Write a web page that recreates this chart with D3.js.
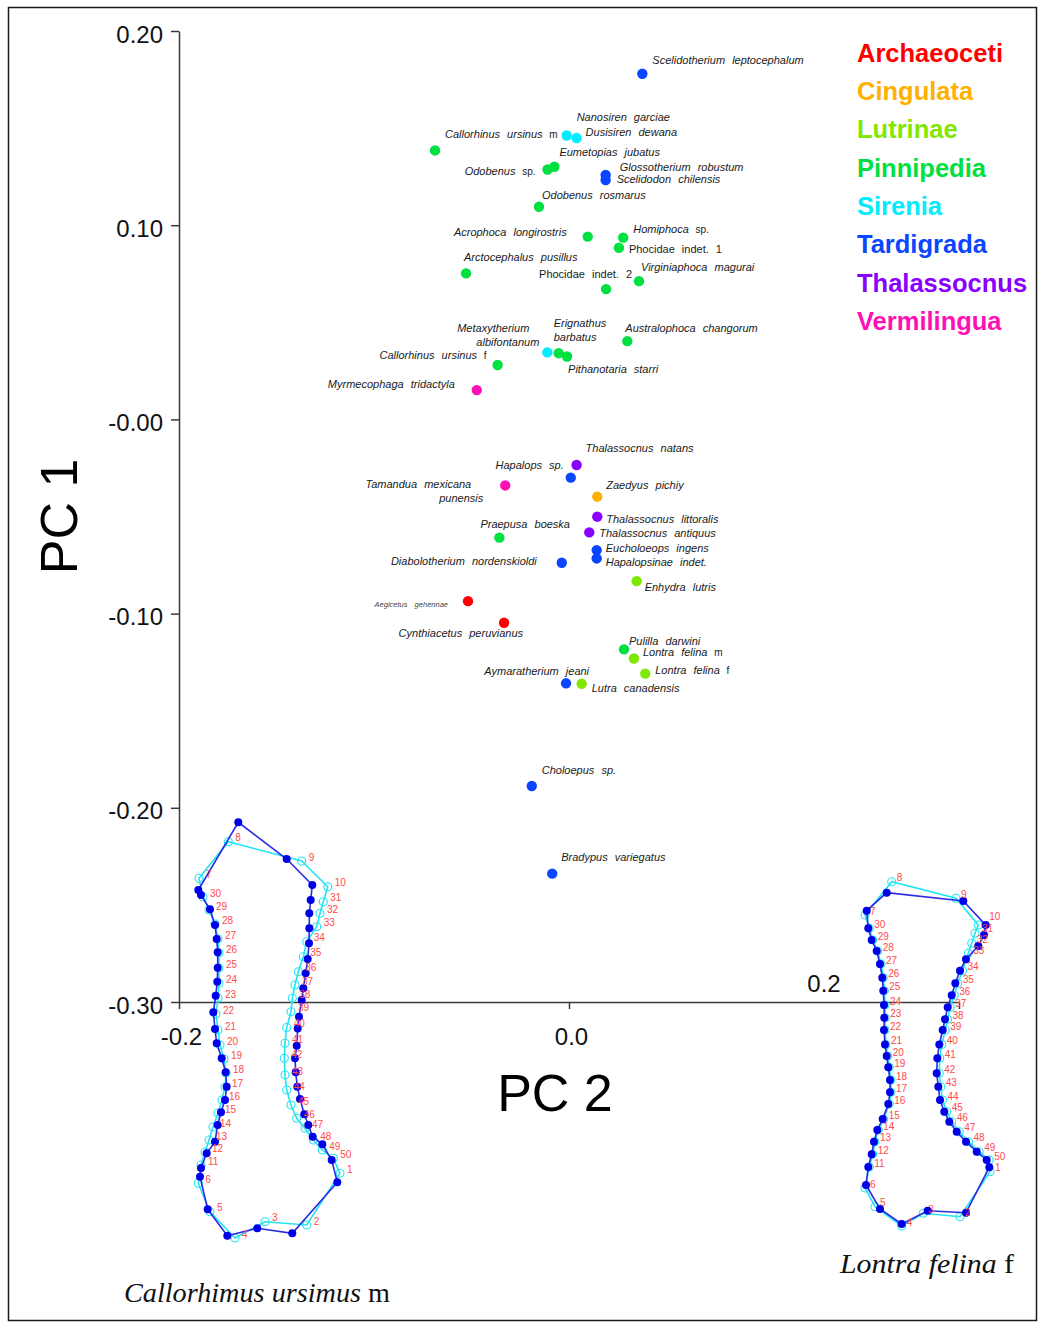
<!DOCTYPE html>
<html>
<head>
<meta charset="utf-8">
<script src="https://cdn.jsdelivr.net/npm/d3@7"></script>
<style>
  body { margin: 0; background: #fff; }
  svg { display: block; }
</style>
</head>
<body>
<svg id="chart" width="1039" height="1323"></svg>
<script>
// ---- Groups (legend) ----
const groups = ["Archaeoceti", "Cingulata", "Lutrinae", "Pinnipedia", "Sirenia", "Tardigrada", "Thalassocnus", "Vermilingua"];

// ---- Taxa: name ("|" splits a name over two lines), upright tag, group, PC scores ----
const taxa = [
  "Scelidotherium leptocephalum", "Nanosiren garciae", "Dusisiren dewana", "Callorhinus ursinus",
  "Odobenus", "Eumetopias jubatus", "Glossotherium robustum", "Scelidodon chilensis",
  "Odobenus rosmarus", "Acrophoca longirostris", "Homiphoca", "Phocidae indet. 1",
  "Arctocephalus pusillus", "Phocidae indet. 2", "Virginiaphoca magurai", "Metaxytherium|albifontanum",
  "Erignathus|barbatus", "Pithanotaria starri", "Australophoca changorum", "Callorhinus ursinus",
  "Myrmecophaga tridactyla", "Thalassocnus natans", "Hapalops sp.", "Tamandua mexicana|punensis",
  "Zaedyus pichiy", "Thalassocnus littoralis", "Thalassocnus antiquus", "Eucholoeops ingens",
  "Hapalopsinae indet.", "Praepusa boeska", "Diabolotherium nordenskioldi", "Enhydra lutris",
  "Aegicetus gehennae", "Cynthiacetus peruvianus", "Pulilla darwini", "Lontra felina",
  "Lontra felina", "Aymaratherium jeani", "Lutra canadensis", "Choloepus sp.",
  "Bradypus variegatus"
];
const taxonTags = [
  "", "", "", "m",
  "sp.", "", "", "",
  "", "", "sp.", "",
  "", "", "", "",
  "", "", "", "f",
  "", "", "", "",
  "", "", "", "",
  "", "", "", "",
  "", "", "", "m",
  "f", "", "", "",
  ""
];
const taxonGroup = [
  "Tardigrada", "Sirenia", "Sirenia", "Pinnipedia",
  "Pinnipedia", "Pinnipedia", "Tardigrada", "Tardigrada",
  "Pinnipedia", "Pinnipedia", "Pinnipedia", "Pinnipedia",
  "Pinnipedia", "Pinnipedia", "Pinnipedia", "Sirenia",
  "Pinnipedia", "Pinnipedia", "Pinnipedia", "Pinnipedia",
  "Vermilingua", "Thalassocnus", "Tardigrada", "Vermilingua",
  "Cingulata", "Thalassocnus", "Thalassocnus", "Tardigrada",
  "Tardigrada", "Pinnipedia", "Tardigrada", "Lutrinae",
  "Archaeoceti", "Archaeoceti", "Pinnipedia", "Lutrinae",
  "Lutrinae", "Tardigrada", "Lutrinae", "Tardigrada",
  "Tardigrada"
];
const pc2Values = [
  0.0376, -0.0012, 0.0039, -0.0687,
  -0.0110, -0.0075, 0.0188, 0.0188,
  -0.0154, 0.0096, 0.0278, 0.0256,
  -0.0528, 0.0190, 0.0359, -0.0111,
  -0.0053, -0.0010, 0.0299, -0.0366,
  -0.0473, 0.0039, 0.0009, -0.0327,
  0.0145, 0.0145, 0.0104, 0.0142,
  0.0142, -0.0357, -0.0037, 0.0347,
  -0.0518, -0.0333, 0.0282, 0.0333,
  0.0391, -0.0015, 0.0065, -0.0191,
  -0.0086
];
const pc1Values = [
  0.1780, 0.1462, 0.1449, 0.1385,
  0.1287, 0.1301, 0.1259, 0.1233,
  0.1095, 0.0941, 0.0936, 0.0884,
  0.0752, 0.0671, 0.0712, 0.0345,
  0.0341, 0.0324, 0.0403, 0.0280,
  0.0151, -0.0235, -0.0300, -0.0340,
  -0.0398, -0.0501, -0.0582, -0.0673,
  -0.0716, -0.0609, -0.0738, -0.0833,
  -0.0936, -0.1047, -0.1184, -0.1231,
  -0.1309, -0.1359, -0.1361, -0.1888,
  -0.2339
];

// ---- Axis ticks ----
const pc1Ticks = [0.2, 0.1, 0.0, -0.1, -0.2, -0.3];
const pc1TickLabels = ["0.20", "0.10", "-0.00", "-0.10", "-0.20", "-0.30"];
const pc2Ticks = [-0.2, 0.0, 0.2];
const pc2TickLabels = ["-0.2", "0.0", "0.2"];

// ---- Landmark configurations (50 landmarks each, local inset units) ----
const callorhinusMean = [
  [147.3,367.3],[102.3,418.3],[67.3,413.3],[37.3,420.7],[17.7,394.3],[10,361.7],[8.3,75],[48.3,7.3],[96.7,44],[122.3,70],
  [11,353],[16.7,338.3],[25,326.7],[27.7,310],[31,297.3],[35,285],[36.7,271.7],[35.7,257.3],[31.7,243.3],[26.7,228.3],
  [25,214],[23.3,197.3],[25.7,180.7],[27.3,166.7],[27.7,152.7],[27.7,137.3],[26.7,124],[25,110],[20,94.3],[11,80],
  [120.7,85],[119.3,98.3],[119.3,113.3],[119,128.3],[117.7,144],[115.7,158.3],[113.3,173.3],[111.7,185],[109,201.7],[107.7,213.5],
  [106.7,230.7],[105,243.3],[105.7,257.3],[107.3,271.7],[110,284],[114.3,299.3],[118.3,310],[122.7,321.7],[132.3,329.3],[141.7,345]
];
const callorhinusSpecimen = [
  [150,358.3],[116.7,410],[75,406.7],[45,423],[20,396.7],[8.3,368.3],[9,63.3],[38.3,26.7],[111.7,46],[137.7,71.7],
  [11,350],[15,337],[19,325],[23,312],[28,298],[32,285],[35,272],[36,258],[34,244],[30,230],
  [28,215],[26,199],[28,183],[29,168],[29,153],[29,138],[28,124],[25,109],[19,95],[13,82],
  [133.3,86.7],[130,98.3],[126.7,111.7],[116.7,126.7],[113.3,141.7],[108.3,156.7],[105,170],[102.3,183.3],[101,196.7],[96.7,212.5],
  [95,228.3],[94.3,243.3],[95,260],[96.7,275],[101,290],[106.7,303.3],[115,313.3],[123.3,325],[132.3,335],[143.3,343.3]
];
const lontraMean = [
  [134.3,297.3],[111,342.7],[72.7,340.7],[46.7,354],[25,339],[11,315],[11.7,40.7],[31.7,22.7],[108.3,31],[130.7,55],
  [13.3,297],[16.7,284.3],[19,271.7],[22.3,260],[27.7,249],[33.3,234],[35,222.3],[35,210],[33.3,197.3],[31.7,186],
  [30,174.5],[29,160],[29.3,147.7],[29,135],[28.3,120.7],[27.3,107.7],[25,94],[21.7,81],[16.7,70],[13.3,58.3],
  [129,65],[123.3,76],[111,89.3],[105,100.7],[100.3,113.3],[96.7,125.3],[92.7,137.3],[90,149.3],[87.7,160],[84.3,174.5],
  [82.3,188.3],[81.7,203.3],[83.3,216.7],[85,230],[89.3,241.7],[94.3,251.7],[101.7,261.7],[111,271.7],[121.7,281.7],[131.7,290]
];
const lontraSpecimen = [
  [135,301.7],[105,346.7],[68.3,343.3],[46.7,356],[20,336.7],[10,318],[10,45],[36.7,11.7],[101,28.3],[123.3,55],
  [14.3,297],[17.7,284.3],[20,271.7],[23.3,260],[28.7,249],[34.3,234],[36,222.3],[36,210],[34.3,197.3],[32.7,186],
  [31,174.5],[30,160],[30.3,147.7],[30,135],[29.3,120.7],[28.3,107.7],[26,94],[22.7,81],[17.7,70],[14.3,58.3],
  [120,63.3],[116.7,73.3],[113.3,83.3],[107.5,100.7],[102.8,113.3],[99.2,125.3],[95.2,137.3],[92.5,149.3],[90.2,160],[86.8,174.5],
  [84.8,188.3],[84.2,203.3],[85.8,216.7],[87.5,230],[91.8,241.7],[96.8,251.7],[104.2,261.7],[113.5,271.7],[124.2,281.7],[134.2,290]
];
// Outline order: fixed landmarks 1-6, left curve 11-30, landmarks 7-10, right curve 31-50
const outlineOrder = [1,2,3,4,5,6].concat(d3.range(11,31), [7,8,9,10], d3.range(31,51), [1]);

// ---------------- styling & layout ----------------
const groupColors = ["#ff0000", "#ffb000", "#80e800", "#00e040", "#00ecff", "#0a46ff", "#8a00ff", "#ff10b4"];
const sansFont = "'Liberation Sans', Arial, sans-serif";
const serifFont = "'Liberation Serif', 'Times New Roman', serif";

// label offsets from each point: [dx, dy, anchor] per line
const labelLayout = [
  [[10,-14,"start"]], [[10,-18,"start"]], [[9,-6,"start"]], [[10,-16,"start"]],
  [[-12,2,"end"]], [[5,-15,"start"]], [[14,-8,"start"]], [[11,-1,"start"]],
  [[3,-12,"start"]], [[-21,-5,"end"]], [[10,-8,"start"]], [[10,1,"start"]],
  [[-2,-16,"start"]], [[-67,-15,"start"]], [[2,-14,"start"]], [[-18,-24,"end"],[-8,-10,"end"]],
  [[-5,-30,"start"],[-5,-16,"start"]], [[1,13,"start"]], [[-2,-13,"start"]], [[-11,-10,"end"]],
  [[-22,-6,"end"]], [[9,-17,"start"]], [[-7,-13,"end"]], [[-34,-1,"end"],[-22,13,"end"]],
  [[9,-12,"start"]], [[9,2,"start"]], [[10,1,"start"]], [[9,-2,"start"]],
  [[9,4,"start"]], [[-19,-14,"start"]], [[-25,-2,"end"]], [[8,6,"start"]],
  [[-20,3,"end"]], [[19,10,"end"]], [[5,-8,"start"]], [[9,-6,"start"]],
  [[10,-3,"start"]], [[23,-12,"end"]], [[10,4,"start"]], [[10,-16,"start"]],
  [[9,-16,"start"]]
];
const uprightNames = new Set(["Phocidae indet. 1", "Phocidae indet. 2"]);
const tinyNames = new Set(["Aegicetus gehennae"]);

const svg = d3.select("#chart");
svg.append("rect").attr("width", 1039).attr("height", 1323).attr("fill", "#fff");
svg.append("rect").attr("x", 8.5).attr("y", 7.5).attr("width", 1028).attr("height", 1313)
  .attr("fill", "none").attr("stroke", "#1a1a1a").attr("stroke-width", 1.5);

const x = d3.scaleLinear().domain([-0.2, 0.2]).range([179, 959]);
const y = d3.scaleLinear().domain([-0.3, 0.2]).range([1002, 31]);
const colorOf = d3.scaleOrdinal().domain(groups).range(groupColors);

// ---- axes ----
function styleAxis(g) {
  g.attr("font-family", null).attr("font-size", null);
  g.select(".domain").attr("stroke", "#3a3a3a").attr("stroke-width", 1.5);
  g.selectAll(".tick line").attr("stroke", "#3a3a3a").attr("stroke-width", 1.5);
  g.selectAll(".tick text").style("font-family", sansFont).style("font-size", "24px").attr("fill", "#111");
}
const gy = svg.append("g").attr("transform", `translate(${x(-0.2)},0)`)
  .call(d3.axisLeft(y).tickValues(pc1Ticks).tickFormat((d, i) => pc1TickLabels[i])
    .tickSize(8).tickSizeOuter(0).tickPadding(8));
styleAxis(gy);
gy.selectAll(".tick text").attr("dy", "0.46em");

const gx = svg.append("g").attr("transform", `translate(0,${y(-0.3)})`)
  .call(d3.axisBottom(x).tickValues(pc2Ticks).tickFormat((d, i) => i < 2 ? pc2TickLabels[i] : "")
    .tickSize(7).tickSizeOuter(0).tickPadding(19));
styleAxis(gx);
gx.selectAll(".tick text").attr("dx", 2);

// label of the 0.2 tick, lifted above the axis beside the inset
svg.append("text")
  .attr("x", x(0.2) - 135).attr("y", y(-0.3) - 10)
  .attr("text-anchor", "middle")
  .style("font-family", sansFont).style("font-size", "24px").attr("fill", "#111")
  .text(pc2TickLabels[2]);

// axis titles
svg.append("text")
  .attr("transform", `translate(77,${(y(0.2) + y(-0.3)) / 2})rotate(-90)`)
  .attr("text-anchor", "middle")
  .style("font-family", sansFont).style("font-size", "52px").attr("fill", "#000")
  .text("PC 1");
svg.append("text")
  .attr("x", 555).attr("y", 1111)
  .attr("text-anchor", "middle")
  .style("font-family", sansFont).style("font-size", "52px").attr("fill", "#000")
  .text("PC 2");

// ---- shape insets ----
function drawShape(origin, meanLm, specLm, labelDx, labelDy, nudges) {
  const sx = d3.scaleLinear().domain([0, 100]).range([origin[0], origin[0] + 100]);
  const sy = d3.scaleLinear().domain([0, 100]).range([origin[1], origin[1] + 100]);
  const g = svg.append("g");
  const line = d3.line().x(p => sx(p[0])).y(p => sy(p[1]));
  const ordered = lm => outlineOrder.map(k => lm[k - 1]);

  g.append("path").attr("d", line(ordered(specLm)))
    .attr("fill", "none").attr("stroke", "#22e4f4").attr("stroke-width", 1.6);
  g.selectAll("circle.spec").data(specLm).join("circle").attr("class", "spec")
    .attr("cx", p => sx(p[0])).attr("cy", p => sy(p[1])).attr("r", 4)
    .attr("fill", "none").attr("stroke", "#22e4f4").attr("stroke-width", 1.1);

  g.append("path").attr("d", line(ordered(meanLm)))
    .attr("fill", "none").attr("stroke", "#2a2ae6").attr("stroke-width", 1.6);
  g.selectAll("circle.mean").data(meanLm).join("circle").attr("class", "mean")
    .attr("cx", p => sx(p[0])).attr("cy", p => sy(p[1])).attr("r", 4)
    .attr("fill", "#0000e8");

  const nudge = i => nudges[i + 1] || [0, 0];
  g.selectAll("text").data(specLm).join("text")
    .attr("x", (p, i) => sx(p[0]) + labelDx + nudge(i)[0])
    .attr("y", (p, i) => sy(p[1]) + labelDy + nudge(i)[1])
    .attr("dy", "0.35em")
    .style("font-family", sansFont).style("font-size", "10px")
    .attr("fill", "#ff4a4a")
    .text((p, i) => i + 1);
}
drawShape([190, 815], callorhinusMean, callorhinusSpecimen, 7, -4, {});
drawShape([855, 870], lontraMean, lontraSpecimen, 5, -4, { 10: [6, -5], 31: [2, -1], 33: [0, 1.5] });

// ---- scores ----
const pts = svg.append("g");
pts.selectAll("circle").data(taxa).join("circle")
  .attr("cx", (d, i) => x(pc2Values[i]))
  .attr("cy", (d, i) => y(pc1Values[i]))
  .attr("r", 5.2)
  .attr("fill", (d, i) => colorOf(taxonGroup[i]));

const labels = svg.append("g");
taxa.forEach((name, i) => {
  const lines = name.split("|");
  const px = x(pc2Values[i]), py = y(pc1Values[i]);
  const upright = uprightNames.has(name);
  const tiny = tinyNames.has(name);
  lines.forEach((ln, j) => {
    const [dx, dy, anchor] = labelLayout[i][j];
    const t = labels.append("text")
      .attr("x", px + dx).attr("y", py + dy).attr("dy", "0.35em")
      .attr("text-anchor", anchor)
      .style("font-family", sansFont)
      .style("font-size", tiny ? "7.5px" : "11px")
      .style("font-style", upright ? "normal" : "italic")
      .style("word-spacing", tiny ? "5px" : "4px")
      .attr("fill", tiny ? "#444" : "#1a1a1a");
    t.append("tspan").text(ln);
    if (j === lines.length - 1 && taxonTags[i]) {
      t.append("tspan").text(" " + taxonTags[i])
        .style("font-style", "normal").style("font-size", "10px");
    }
  });
});

// ---- legend ----
const legend = svg.append("g");
legend.selectAll("text").data(groups).join("text")
  .attr("x", 857).attr("y", (d, i) => 61.7 + i * 38.3)
  .style("font-family", sansFont).style("font-size", "25.5px").style("font-weight", "bold")
  .attr("fill", d => colorOf(d))
  .text(d => d);

// ---- inset captions ----
function caption(xPos, yPos, italicPart, plainPart, len) {
  const t = svg.append("text")
    .attr("x", xPos).attr("y", yPos)
    .attr("textLength", len).attr("lengthAdjust", "spacingAndGlyphs")
    .style("font-family", serifFont).style("font-size", "28px").attr("fill", "#111");
  t.append("tspan").style("font-style", "italic").text(italicPart);
  t.append("tspan").text(plainPart);
}
caption(124, 1302, "Callorhimus ursimus ", "m", 266);
caption(840, 1273, "Lontra felina ", "f", 174);
</script>
</body>
</html>
